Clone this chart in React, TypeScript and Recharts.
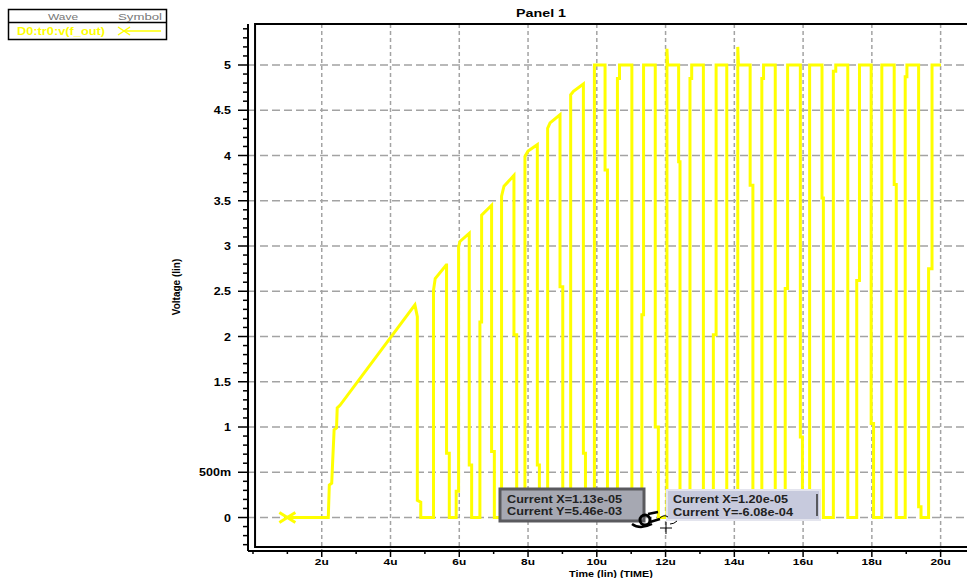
import React from "react";
import { LineChart, Line, XAxis, YAxis, CartesianGrid, ReferenceArea } from "recharts";

// D0:tr0:v(f_out) (time in µs, voltage in V)
const T_US = [
  1.0, 2.19, 2.22, 2.29, 2.32, 2.36, 2.43, 2.45, 2.53, 4.71, 4.78, 4.78, 4.88, 4.88,
  5.25, 5.25, 5.3, 5.62, 5.63, 5.63, 5.71, 5.71,
  5.91, 5.91, 5.98, 5.98, 6.02, 6.29, 6.29, 6.36, 6.36,
  6.6, 6.6, 6.65, 6.65, 6.94, 6.94, 7.02, 7.02,
  7.23, 7.23, 7.3, 7.59, 7.59, 7.67, 7.67,
  7.91, 7.91, 8.0, 8.27, 8.27, 8.33, 8.33,
  8.57, 8.57, 8.64, 8.93, 8.93, 9.01, 9.01,
  9.24, 9.24, 9.32, 9.61, 9.61, 9.67, 9.67,
  9.93, 9.93, 10.24, 10.24, 10.31, 10.31,
  10.6, 10.6, 10.66, 10.66, 11.02, 11.02,
  11.31, 11.31, 11.36, 11.36, 11.7, 11.7, 11.79, 11.79,
  12.04, 12.04, 12.06, 12.38, 12.38, 12.42, 12.42,
  12.71, 12.71, 12.76, 12.76, 13.1, 13.1,
  13.39, 13.39, 13.47, 13.47, 13.78, 13.78,
  14.1, 14.1, 14.12, 14.46, 14.46, 14.54, 14.54,
  14.8, 14.8, 14.85, 14.85, 15.19, 15.19,
  15.48, 15.48, 15.55, 15.55, 15.92, 15.92, 15.98, 15.98,
  16.19, 16.19, 16.55, 16.55, 16.59, 16.59,
  16.88, 16.88, 16.95, 16.95, 17.3, 17.3,
  17.56, 17.56, 17.64, 17.64, 17.98, 17.98, 18.05, 18.05,
  18.29, 18.29, 18.65, 18.65, 18.71, 18.71,
  18.97, 18.97, 19.02, 19.02, 19.36, 19.36, 19.43, 19.43,
  19.65, 19.65, 19.75, 19.75, 20.01,
];
const V_OUT = [
  0, 0, 0.36, 0.38, 0.64, 0.97, 0.99, 1.21, 1.24, 2.35, 2.22, 0.19, 0.17, 0,
  0, 2.51, 2.64, 2.79, 2.79, 0.71, 0.71, 0,
  0, 0.29, 0.29, 2.99, 3.05, 3.14, 0.58, 0.58, 0,
  0, 2.16, 2.16, 3.34, 3.45, 0.73, 0.73, 0,
  0, 3.55, 3.66, 3.78, 2.02, 2.02, 0,
  0, 3.99, 4.05, 4.12, 0.58, 0.58, 0,
  0, 4.3, 4.36, 4.45, 2.55, 2.55, 0,
  0, 4.67, 4.71, 4.79, 0.71, 0.71, 0,
  0, 5.0, 5.0, 3.84, 3.84, 0,
  0, 4.85, 4.85, 5.0, 5.0, 0,
  0, 2.24, 2.24, 5.0, 5.0, 1.0, 1.0, 0,
  0, 5.18, 5.0, 5.0, 3.93, 3.93, 0,
  0, 4.85, 4.85, 5.0, 5.0, 0,
  0, 2.02, 2.02, 5.0, 5.0, 0,
  0, 5.2, 5.0, 5.0, 3.67, 3.67, 0,
  0, 4.85, 4.85, 5.0, 5.0, 0,
  0, 2.53, 2.53, 5.0, 5.0, 0.89, 0.89, 0,
  0, 5.0, 5.0, 3.53, 3.53, 0,
  0, 4.93, 4.93, 5.0, 5.0, 0,
  0, 2.62, 2.62, 5.0, 5.0, 1.04, 1.04, 0,
  0, 5.0, 5.0, 3.68, 3.68, 0,
  0, 4.87, 4.87, 5.0, 5.0, 0.12, 0.12, 0,
  0, 2.75, 2.75, 5.0, 5.0,
];

const X_MAJOR = [2, 4, 6, 8, 10, 12, 14, 16, 18, 20];
const X_MAJOR_LABELS = ["2u", "4u", "6u", "8u", "10u", "12u", "14u", "16u", "18u", "20u"];
const X_MINOR = [0, 1, 2, 3, 4, 5, 6, 7, 8, 9, 10, 11, 12, 13, 14, 15, 16, 17, 18, 19, 20, 21];
const Y_MAJOR = [0, 0.5, 1, 1.5, 2, 2.5, 3, 3.5, 4, 4.5, 5];
const Y_MAJOR_LABELS = ["0", "500m", "1", "1.5", "2", "2.5", "3", "3.5", "4", "4.5", "5"];
const Y_MINOR = [
  -0.3, -0.2, -0.1, 0, 0.1, 0.2, 0.3, 0.4, 0.5, 0.6, 0.7, 0.8, 0.9, 1, 1.1, 1.2, 1.3, 1.4,
  1.5, 1.6, 1.7, 1.8, 1.9, 2, 2.1, 2.2, 2.3, 2.4, 2.5, 2.6, 2.7, 2.8, 2.9, 3, 3.1, 3.2, 3.3,
  3.4, 3.5, 3.6, 3.7, 3.8, 3.9, 4, 4.1, 4.2, 4.3, 4.4, 4.5, 4.6, 4.7, 4.8, 4.9, 5, 5.1, 5.2,
  5.3, 5.4,
];

const FONT = "'Liberation Sans', Arial, sans-serif";
const YELLOW = "#ffff00";
const AXIS_X = 248;
const AXIS_Y = 551;

const data = T_US.map((t, i) => ({ t, v: V_OUT[i] }));

const findMajor = (list: number[], v: number) => list.findIndex((m) => Math.abs(m - v) < 1e-6);

const YTick = (props: any) => {
  const { y, payload } = props;
  const i = findMajor(Y_MAJOR, payload.value);
  return (
    <g>
      <line x1={AXIS_X - (i >= 0 ? 10 : 5)} x2={AXIS_X} y1={y} y2={y} stroke="#000" strokeWidth={1.5} />
      {i >= 0 && (
        <text
          transform={`translate(231 ${y + 4}) scale(1.25 1)`}
          textAnchor="end"
          fontFamily={FONT}
          fontSize={10}
          fontWeight="bold"
          fill="#000"
        >
          {Y_MAJOR_LABELS[i]}
        </text>
      )}
    </g>
  );
};

const XTick = (props: any) => {
  const { x, payload } = props;
  const i = findMajor(X_MAJOR, payload.value);
  return (
    <g>
      <line x1={x} x2={x} y1={AXIS_Y} y2={AXIS_Y + (i >= 0 ? 6 : 3)} stroke="#000" strokeWidth={1.5} />
      {i >= 0 && (
        <text
          transform={`translate(${x} 565) scale(1.25 1)`}
          textAnchor="middle"
          fontFamily={FONT}
          fontSize={9.5}
          fontWeight="bold"
          fill="#000"
        >
          {X_MAJOR_LABELS[i]}
        </text>
      )}
    </g>
  );
};

const startDot = (props: any) => {
  const { cx, cy, index } = props;
  if (index !== 0) return <g key={`d${index}`} />;
  return (
    <path
      key="start"
      d={`M${cx - 8},${cy - 5}L${cx + 8},${cy + 5}M${cx - 8},${cy + 5}L${cx + 8},${cy - 5}`}
      stroke={YELLOW}
      strokeWidth={3}
      fill="none"
    />
  );
};

const Overlay = () => (
  <svg
    width={967}
    height={578}
    style={{ position: "absolute", left: 0, top: 0, pointerEvents: "none" }}
    fontFamily={FONT}
  >
    {/* title + axis titles */}
    <text transform="translate(541 17) scale(1.3 1)" textAnchor="middle" fontSize={11} fontWeight="bold">
      Panel 1
    </text>
    <text transform="translate(180 287) rotate(-90)" textAnchor="middle" fontSize={10} fontWeight="bold">
      Voltage (lin)
    </text>
    <text transform="translate(611 577) scale(1.2 1)" textAnchor="middle" fontSize={9} fontWeight="bold">
      Time (lin) (TIME)
    </text>

    {/* legend */}
    <rect x={8.5} y={9.5} width={158} height={30} fill="#fff" stroke="#000" strokeWidth={1.5} />
    <line x1={8.5} x2={166.5} y1={22.5} y2={22.5} stroke="#000" strokeWidth={1.5} />
    <text x={48} y={20} fontSize={9} fill="#777" textLength={30} lengthAdjust="spacingAndGlyphs">
      Wave
    </text>
    <text x={118} y={20} fontSize={9} fill="#777" textLength={44} lengthAdjust="spacingAndGlyphs">
      Symbol
    </text>
    <text x={17} y={34.5} fontSize={10} fontWeight="bold" fill={YELLOW} textLength={88} lengthAdjust="spacingAndGlyphs">
      D0:tr0:v(f_out)
    </text>
    <path d="M118,27L130,35M118,35L130,27" stroke={YELLOW} strokeWidth={1.5} />
    <line x1={124} x2={161} y1={31} y2={31} stroke={YELLOW} strokeWidth={1.5} />

    {/* cursor readouts */}
    <rect x={500} y={489} width={144} height={32} fill="#a6a8b2" stroke="#5a5a5e" strokeWidth={3} />
    <text x={507} y={503} fontSize={10} fontWeight="bold" fill="#222" textLength={115} lengthAdjust="spacingAndGlyphs">
      Current X=1.13e-05
    </text>
    <text x={507} y={515} fontSize={10} fontWeight="bold" fill="#222" textLength={115} lengthAdjust="spacingAndGlyphs">
      Current Y=5.46e-03
    </text>
    <rect x={667} y={490} width={153} height={30} fill="#c7cadd" stroke="#e4e5ee" strokeWidth={2} />
    <line x1={817} x2={817} y1={494} y2={516} stroke="#333" strokeWidth={1.5} />
    <text x={673} y={503} fontSize={10} fontWeight="bold" fill="#222" textLength={115} lengthAdjust="spacingAndGlyphs">
      Current X=1.20e-05
    </text>
    <text x={673} y={516} fontSize={10} fontWeight="bold" fill="#222" textLength={120} lengthAdjust="spacingAndGlyphs">
      Current Y=-6.08e-04
    </text>

    {/* cursor glyphs */}
    <circle cx={645} cy={520} r={5} fill="none" stroke="#000" strokeWidth={3} />
    <path d="M632,524Q640,530 652,524M648,514L658,512M650,522L660,519" stroke="#000" strokeWidth={2.5} fill="none" />
    <path d="M660,518Q664,514 668,517M666,522L666,534M660,528L672,528M670,524Q674,524 677,521" stroke="#000" strokeWidth={1} fill="none" />
  </svg>
);

export default function App() {
  return (
    <div
      style={{
        position: "absolute",
        left: 0,
        top: 0,
        width: 967,
        height: 578,
        overflow: "hidden",
        background: "#fff",
      }}
    >
      <LineChart width={975} height={578} data={data} margin={{ top: 24, right: 0, bottom: 7, left: 208 }}>
        <CartesianGrid
          horizontal
          vertical={false}
          horizontalValues={Y_MAJOR}
          stroke="#a3a3a3"
          strokeWidth={1.5}
          strokeDasharray="8 4"
        />
        <CartesianGrid
          horizontal={false}
          vertical
          verticalValues={X_MAJOR}
          stroke="#a3a3a3"
          strokeWidth={1.5}
          strokeDasharray="4 3"
        />
        <XAxis
          dataKey="t"
          type="number"
          domain={[-0.145, 21]}
          allowDataOverflow
          ticks={X_MINOR}
          interval={0}
          height={20}
          tick={<XTick />}
          tickLine={false}
          axisLine={{ stroke: "#000", strokeWidth: 2 }}
        />
        <YAxis
          type="number"
          domain={[-0.37, 5.453]}
          allowDataOverflow
          ticks={Y_MINOR}
          interval={0}
          width={40}
          tick={<YTick />}
          tickLine={false}
          axisLine={{ stroke: "#000", strokeWidth: 2 }}
        />
        <ReferenceArea
          x1={0.06}
          x2={21}
          y1={-0.325}
          y2={5.453}
          fill="none"
          fillOpacity={0}
          stroke="#000"
          strokeWidth={2}
          ifOverflow="visible"
        />
        <Line
          type="linear"
          dataKey="v"
          stroke={YELLOW}
          strokeWidth={3}
          dot={startDot}
          activeDot={false}
          isAnimationActive={false}
        />
      </LineChart>
      <Overlay />
    </div>
  );
}
